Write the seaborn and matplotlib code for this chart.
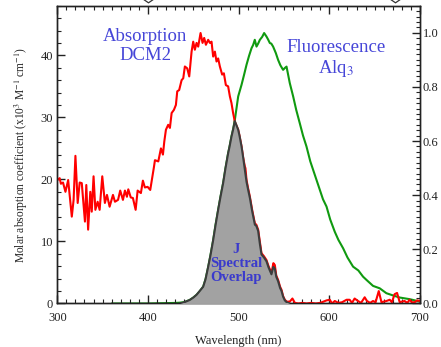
import numpy as np
import pandas as pd
import matplotlib
matplotlib.use("Agg")
import matplotlib.pyplot as plt
import matplotlib.transforms as mtransforms
from matplotlib.ticker import MultipleLocator, FormatStrFormatter
import seaborn as sns

# ---------------- data ----------------
abs_wl = [300, 302.6, 304, 306.3, 309, 312, 316, 318, 320, 322.5, 324.7, 327, 330.5, 332, 334,
          336.4, 338, 340, 342, 344.5, 346.7, 349.6, 352.5, 354.8, 357.7, 361.4, 363.6, 367,
          369.4, 372.4, 374.6, 376.8, 378.3, 381, 383.4, 386.4, 388.6, 392.2, 394.4, 396.6,
          399.6, 402.5, 405, 406.6, 407.7, 411.4, 414.3, 416.5, 418, 419.8, 422.3, 424.2, 426.1,
          428.6, 430.8, 432.3, 434.4, 437.1, 438.9, 440.7, 443.3, 445.5, 448.1, 449.9, 451.7,
          453.6, 455.4, 458, 460.2, 462, 463.9, 466.4, 468.3, 470.1, 471.9, 473.8, 475.6, 477.4,
          479.3, 481.8, 483.7, 485.9, 488.4, 490.3, 492.1, 493.9, 495.8, 499.5, 501, 503.2, 505,
          506.8, 507.5, 508.7, 510.5, 512.4, 515, 517.9, 519.5, 521.5, 523.4, 525.2, 528, 530.7,
          533, 536.2, 538.3, 539.9, 541.5, 543.5, 545.7, 547.3, 549, 550.9, 553, 556.4, 559.3,
          562, 566, 570, 575, 580, 585, 590, 597, 600.5, 603, 606, 610, 614, 619, 622.4, 625,
          627.9, 631.6, 635, 639, 641.5, 645, 648.2, 651, 654.5, 657.5, 660, 663, 666.6, 669,
          672, 674.7, 677.6, 680, 683, 686, 688.5, 691, 694, 697, 700]
abs_val = [19.9, 20.2, 19.3, 19.5, 18.0, 19.9, 14.0, 16.7, 23.8, 16.2, 19.5, 19.4, 13.2, 19.1, 11.9,
           18.0, 14.8, 20.5, 15.1, 16.4, 15.1, 20.5, 16.2, 17.5, 15.6, 17.5, 16.4, 16.7,
           18.2, 16.7, 18.2, 17.2, 18.4, 17.1, 17.0, 15.1, 18.2, 17.8, 19.8, 18.7,
           18.8, 18.3, 20.5, 22.0, 23.1, 22.9, 25.0, 24.0, 26.1, 28.0, 28.8, 28.3, 30.7,
           31.2, 32.0, 34.2, 34.4, 36.0, 36.3, 38.2, 37.9, 36.6, 40.6, 42.2, 40.9,
           42.0, 41.4, 43.6, 42.0, 42.8, 41.7, 42.5, 42.0, 42.2, 39.8, 40.6, 39.0, 39.5,
           38.2, 36.9, 37.1, 35.2, 35.0, 33.4, 32.3, 30.7, 29.3, 28.0, 27.0, 25.3, 23.5,
           22.1, 21.8, 19.9, 18.5, 17.2, 15.0, 12.9, 12.7, 11.9, 10.0, 8.1, 7.6, 7.0,
           6.0, 4.9, 6.5, 6.2, 4.5, 3.8, 2.7, 2.2, 1.2, 0.6, 0.3, 0.3, 0.8,
           0.1, 0.0, 0.1, 0.0, 0.1, 0.0, 0.1, 0.5, 0.6, 0.0, 0.4, 0.1, 0.2, 0.6, 0.6, 0.1,
           0.8, 0.4, 0.1, 1.0, 0.4, 0.1, 0.4, 0.2, 2.0, 0.2, 0.3, 0.4, 0.6, 0.2,
           1.5, 1.7, 0.2, 0.3, 0.4, 0.1, 0.6, 0.2, 0.2, 0.5, 0.4]

fl_wl = [360, 400, 430, 435, 440, 446, 450, 453.6, 457, 460.9, 463.5, 466.4, 469, 471.9, 474.5,
         477.4, 480, 482.9, 485.5, 488.4, 490, 492.1, 494, 495.8, 499.5, 503.2, 506, 508.7,
         511.5, 514.2, 516, 517.8, 519.7, 521.5, 523.4, 526, 528.1, 530.7, 532.5, 534.4, 536,
         538, 541, 543.5, 546, 549, 551, 552.8, 556.4, 560.1, 563.5, 567.4, 571, 574.8, 579,
         584, 589.5, 593, 596.9, 601, 606, 610, 615.2, 620, 626.2, 632, 637.2, 641, 648.2,
         655.6, 662.9, 670, 677.6, 688.5, 700]
fl_val = [0.0, 0.0, 0.002, 0.003, 0.005, 0.013, 0.022, 0.032, 0.045, 0.062, 0.09, 0.135, 0.18,
          0.234, 0.29, 0.346, 0.395, 0.445, 0.50, 0.555, 0.58, 0.617, 0.645, 0.678, 0.765,
          0.808, 0.845, 0.882, 0.915, 0.943, 0.955, 0.974, 0.949, 0.960, 0.974, 0.985, 0.999,
          0.986, 0.975, 0.962, 0.960, 0.949, 0.925, 0.900, 0.880, 0.863, 0.870, 0.875, 0.814,
          0.765, 0.715, 0.666, 0.620, 0.580, 0.525, 0.475, 0.420, 0.385, 0.358, 0.310, 0.265,
          0.235, 0.204, 0.170, 0.136, 0.122, 0.099, 0.087, 0.065, 0.056, 0.038, 0.030, 0.022,
          0.016, 0.007]

ov_wl = [435, 440, 446, 450, 453.6, 457, 460.9, 463.5, 466.4, 469, 471.9, 474.5, 477.4, 480,
         482.9, 485.5, 488.4, 490, 492.1, 494, 495.8, 499.5, 501, 503.2, 505, 506.8, 508.7,
         510.5, 512.4, 515, 517.9, 519.5, 521.5, 523.4, 525.2, 528, 530.7, 533, 536.2, 538.3,
         539.9, 541.5, 543.5, 545.7, 547.3, 549, 550.9, 553, 556.4]
ov_val = [0.0, 0.2, 0.56, 0.95, 1.4, 2.0, 2.7, 3.9, 5.9, 7.8, 10.2, 12.6, 15.1, 17.2,
          19.4, 21.8, 24.2, 25.3, 26.9, 28.1, 29.4, 28.0, 27.0, 25.3, 23.5, 21.6, 19.6,
          18.3, 17.0, 14.8, 12.7, 12.5, 11.7, 9.6, 7.9, 7.4, 6.8, 5.8, 4.7, 5.9,
          5.6, 4.3, 3.6, 2.5, 2.0, 1.1, 0.5, 0.2, 0.0]

x_ticks = [300, 400, 500, 600, 700]
left_ticks = [0, 10, 20, 30, 40]
right_ticks = [0.0, 0.2, 0.4, 0.6, 0.8, 1.0]

# ---------------- style ----------------
sns.set_theme(style="ticks")
plt.rcParams["font.family"] = ["Liberation Serif", "DejaVu Serif"]
plt.rcParams["mathtext.fontset"] = "stix"
plt.rcParams["xtick.direction"] = "in"
plt.rcParams["ytick.direction"] = "in"

text_col = "#222222"
blue = "#4646d8"

fig = plt.figure(figsize=(4.41, 3.47), dpi=100)
ax = fig.add_axes([0.1299, 0.1254, 0.8225, 0.8582])
ax2 = ax.twinx()
ax.set_zorder(ax2.get_zorder() + 1)
ax.patch.set_visible(False)

df_abs = pd.DataFrame({"wl": abs_wl, "val": abs_val})
df_fl = pd.DataFrame({"wl": fl_wl, "val": fl_val})

sns.lineplot(data=df_fl, x="wl", y="val", ax=ax2, color="#109a10", lw=1.5, sort=False)
sns.lineplot(data=df_abs, x="wl", y="val", ax=ax, color="#ff0000", lw=1.5, sort=False)
ax.fill_between(ov_wl, 0, ov_val, color="#a2a2a2", lw=0, zorder=3)
ax.plot(ov_wl, ov_val, color="#3c3c3c", lw=1.5, zorder=4)

ax.set_xlim(300, 700)
ax.set_ylim(0, 48)
ax2.set_ylim(0, 1.10)

ax.set_xticks(x_ticks)
ax.set_yticks(left_ticks)
ax2.set_yticks(right_ticks)
ax.xaxis.set_minor_locator(MultipleLocator(10))
ax.yaxis.set_minor_locator(MultipleLocator(2))
ax2.yaxis.set_minor_locator(MultipleLocator(0.02))
ax2.yaxis.set_major_formatter(FormatStrFormatter("%.1f"))

for a in (ax, ax2):
    a.tick_params(which="major", length=6, width=1, color="#222222",
                  labelsize=9, labelcolor=text_col, pad=3)
    a.tick_params(which="minor", length=3.2, width=0.8, color="#222222")
    for s in a.spines.values():
        s.set_color("#222222")
        s.set_linewidth(1.0)
ax.tick_params(axis="x", which="both", top=True, bottom=True)
ax.tick_params(axis="x", which="major", pad=6)
ax.tick_params(axis="y", which="both", left=True, right=False)
ax2.tick_params(axis="y", which="both", right=True, left=False)
ax2.tick_params(axis="y", which="major", pad=2)

ax.set_xlabel("Wavelength (nm)", fontsize=9, color=text_col, labelpad=8)
ax.set_ylabel("Molar absorption coefficient (x10$^3$ M$^{-1}$ cm$^{-1}$)",
              fontsize=8.3, color=text_col, labelpad=8)
ax2.set_ylabel("")

ax.text(397, 41.5, "Absorption\nDCM2", color=blue, fontsize=13.5, ha="center",
        va="center", linespacing=1.15, zorder=6)
ax.text(607, 39.4, "Fluorescence\nAlq$_3$", color=blue, fontsize=13.5, ha="center",
        va="center", linespacing=1.15, zorder=6)
ax.text(497, 6.5, "J\nSpectral\nOverlap", color="#3a3acc", fontsize=10.5,
        fontweight="bold", ha="center", va="center", linespacing=1.1, zorder=6)

# open diamond markers cut by the top edge
trans = mtransforms.blended_transform_factory(ax.transData, ax.transAxes)
ax.plot([400, 672], [1.026, 1.026], transform=trans, ls="",
        marker=[(-1.45, 0), (0, 1), (1.45, 0), (0, -1), (-1.45, 0)],
        ms=9, mfc="white", mec="#333333", mew=0.9, clip_on=False, zorder=10)

fig.savefig("out.png", dpi=100)
